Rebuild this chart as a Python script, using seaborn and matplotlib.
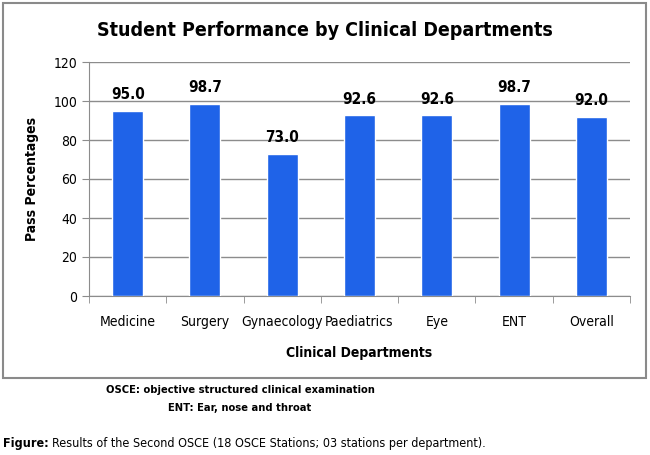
import matplotlib
matplotlib.use("Agg")
import matplotlib.pyplot as plt
from matplotlib.patches import Rectangle
import seaborn as sns

departments = ["Medicine", "Surgery", "Gynaecology", "Paediatrics", "Eye", "ENT", "Overall"]
pass_pct = [95.0, 98.7, 73.0, 92.6, 92.6, 98.7, 92.0]
y_ticks = [0, 20, 40, 60, 80, 100, 120]

sns.set_style("white")
plt.rcParams['font.family'] = ['DejaVu Sans']
plt.rcParams['font.stretch'] = 'condensed'
plt.rcParams['text.color'] = 'black'
plt.rcParams['axes.labelcolor'] = 'black'
plt.rcParams['xtick.color'] = 'black'
plt.rcParams['ytick.color'] = 'black'

fig = plt.figure(figsize=(6.5, 4.55), dpi=100)
ax = fig.add_axes([89/650, 1 - 296/455, (630 - 89)/650, (296 - 62)/455])

sns.barplot(x=departments, y=pass_pct, color="#1f63e8", width=0.4,
            saturation=1, ax=ax, zorder=3)
ax.bar_label(ax.containers[0], fmt="%.1f", padding=6, fontsize=11,
             fontweight="bold", color="black")

ax.set_ylim(0, 120)
ax.set_xlim(-0.5, len(departments) - 0.5)
ax.set_yticks(y_ticks)
ax.yaxis.grid(True, color="#8c8c8c", linewidth=1, zorder=0)
ax.set_axisbelow(True)
for s in ["top", "right"]:
    ax.spines[s].set_visible(False)
ax.spines["left"].set_color("#8c8c8c")
ax.spines["bottom"].set_color("#8c8c8c")

# ticks at category boundaries, labels centred
ax.set_xticks([i - 0.5 for i in range(len(departments) + 1)], minor=True)
ax.set_xticks(range(len(departments)))
ax.set_xticklabels(departments, fontsize=10)
ax.tick_params(axis="x", which="major", length=0, pad=14)
ax.tick_params(axis="x", which="minor", length=5, color="#8c8c8c", direction="out", bottom=True)
ax.tick_params(axis="y", length=5, color="#8c8c8c", direction="out", left=True, labelsize=10)

ax.set_xlabel("Clinical Departments", fontsize=10, fontweight="bold", labelpad=12)
ax.set_ylabel("Pass Percentages", fontsize=10, fontweight="bold", labelpad=10)

fig.text(325/650, 1 - 30/455, "Student Performance by Clinical Departments",
         ha="center", va="center", fontsize=14, fontweight="bold")

fig.patches.append(Rectangle((3/650, 1 - 378/455), 643/650, 375/455,
                             transform=fig.transFigure, fill=False,
                             edgecolor="#8a8a8a", linewidth=1.5))

fig.text(240/650, 1 - 390/455, "OSCE: objective structured clinical examination",
         ha="center", va="center", fontsize=8, fontweight="bold")
fig.text(240/650, 1 - 408/455, "ENT: Ear, nose and throat",
         ha="center", va="center", fontsize=8, fontweight="bold")

t = fig.text(3/650, 1 - 443/455, "Figure:", ha="left", va="center",
             fontsize=9, fontweight="bold")
fig.canvas.draw()
bb = t.get_window_extent()
fig.text(bb.x1/650 + 3/650, 1 - 443/455,
         "Results of the Second OSCE (18 OSCE Stations; 03 stations per department).",
         ha="left", va="center", fontsize=9)

fig.savefig("out.png", dpi=100)
